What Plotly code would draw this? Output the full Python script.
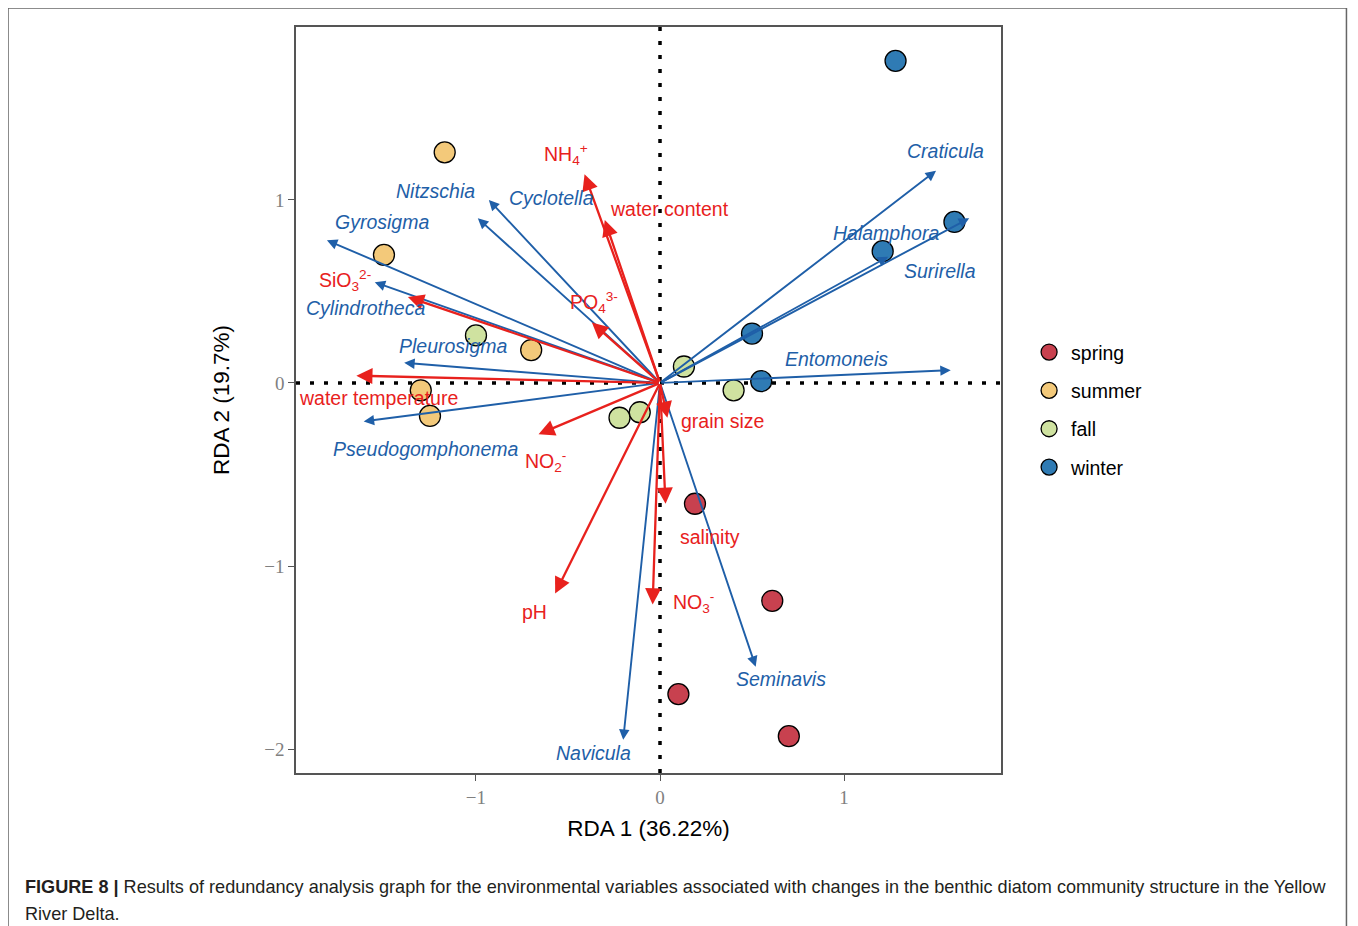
import plotly.graph_objects as go

# ---------------- data ----------------
seasons = ["spring", "summer", "fall", "winter"]
season_colors = ["#c8414f", "#f3c97a", "#cfe2a0", "#2f7bb4"]

spring_x = [0.19, 0.61, 0.10, 0.70]
spring_y = [-0.66, -1.19, -1.70, -1.93]
summer_x = [-1.17, -1.50, -0.70, -1.30, -1.25]
summer_y = [1.26, 0.70, 0.18, -0.04, -0.18]
fall_x = [-1.00, 0.13, 0.40, -0.22, -0.11]
fall_y = [0.26, 0.09, -0.04, -0.19, -0.16]
winter_x = [1.28, 1.60, 1.21, 0.50, 0.55]
winter_y = [1.76, 0.88, 0.72, 0.27, 0.01]

species = ["Craticula", "Surirella", "Halamphora", "Entomoneis", "Seminavis",
           "Navicula", "Pseudogomphonema", "Pleurosigma", "Cylindrotheca",
           "Gyrosigma", "Nitzschia", "Cyclotella"]
species_x = [1.50, 1.68, 1.24, 1.58, 0.52, -0.20, -1.61, -1.39, -1.55, -1.81, -0.93, -0.99]
species_y = [1.16, 0.90, 0.69, 0.07, -1.55, -1.95, -0.21, 0.11, 0.55, 0.78, 1.00, 0.90]
species_label_x = [1.55, 1.52, 1.23, 0.96, 0.66, -0.36, -1.27, -1.12, -1.60, -1.51, -1.22, -0.59]
species_label_y = [1.27, 0.61, 0.82, 0.13, -1.62, -2.02, -0.36, 0.20, 0.41, 0.88, 1.05, 1.01]

env = ["NH<sub>4</sub><sup>+</sup>", "water content", "PO<sub>4</sub><sup>3-</sup>",
       "SiO<sub>3</sub><sup>2-</sup>", "water temperature", "NO<sub>2</sub><sup>-</sup>",
       "pH", "NO<sub>3</sub><sup>-</sup>", "salinity", "grain size"]
env_x = [-0.41, -0.30, -0.37, -1.37, -1.65, -0.66, -0.57, -0.04, 0.03, 0.04]
env_y = [1.14, 0.89, 0.33, 0.47, 0.04, -0.28, -1.15, -1.21, -0.66, -0.19]
env_label_x = [-0.51, 0.05, -0.36, -1.71, -1.53, -0.62, -0.68, 0.18, 0.27, 0.34]
env_label_y = [1.25, 0.95, 0.44, 0.56, -0.08, -0.43, -1.25, -1.20, -0.84, -0.21]

x_ticks = [-1, 0, 1]
y_ticks = [-2, -1, 0, 1]

caption_line1 = ("<b>FIGURE 8 |</b> Results of redundancy analysis graph for the environmental variables "
                 "associated with changes in the benthic diatom community structure in the Yellow")
caption_line2 = "River Delta."

# ---------------- figure ----------------
BLUE = "#1f5fa8"
RED = "#e8211d"

fig = go.Figure()
site_x = [spring_x, summer_x, fall_x, winter_x]
site_y = [spring_y, summer_y, fall_y, winter_y]
for name, col, xs, ys in zip(seasons, season_colors, site_x, site_y):
    fig.add_trace(go.Scatter(
        x=xs, y=ys, mode="markers", name=name, legendgroup=name,
        marker=dict(size=21, color=col, line=dict(color="black", width=1.3)),
    ))

annotations = []
for x, y in zip(species_x, species_y):
    annotations.append(dict(x=x, y=y, ax=0, ay=0, xref="x", yref="y", axref="x", ayref="y",
                            text="", showarrow=True, arrowhead=2, arrowsize=1.1,
                            arrowwidth=1.9, arrowcolor=BLUE, standoff=0))
for x, y in zip(env_x, env_y):
    annotations.append(dict(x=x, y=y, ax=0, ay=0, xref="x", yref="y", axref="x", ayref="y",
                            text="", showarrow=True, arrowhead=2, arrowsize=1.4,
                            arrowwidth=2.3, arrowcolor=RED, standoff=0))
for name, x, y in zip(species, species_label_x, species_label_y):
    annotations.append(dict(x=x, y=y, xref="x", yref="y", text="<i>%s</i>" % name,
                            showarrow=False, font=dict(family="Liberation Sans", size=19.5, color=BLUE)))
for name, x, y in zip(env, env_label_x, env_label_y):
    annotations.append(dict(x=x, y=y, xref="x", yref="y", text=name,
                            showarrow=False, font=dict(family="Liberation Sans", size=19.5, color=RED)))
cap_font = dict(family="Liberation Sans", size=18.1, color="#231f20")
annotations.append(dict(x=-0.3872, y=-0.1528, xref="paper", yref="paper", xanchor="left", yanchor="middle",
                        align="left", text=caption_line1, showarrow=False, font=cap_font))
annotations.append(dict(x=-0.3872, y=-0.1890, xref="paper", yref="paper", xanchor="left", yanchor="middle",
                        align="left", text=caption_line2, showarrow=False, font=cap_font))

shapes = [
    dict(type="line", xref="x", yref="paper", x0=0, x1=0, y0=0, y1=1, layer="below",
         line=dict(color="black", width=3.5, dash="4px,10px")),
    dict(type="line", xref="paper", yref="y", x0=0, x1=1, y0=0, y1=0, layer="below",
         line=dict(color="black", width=3.5, dash="4px,10px")),
    # outer figure frame
    dict(type="line", xref="paper", yref="paper", x0=-0.4085, x1=1.49, y0=1.0255, y1=1.0255,
         line=dict(color="#666666", width=1.5)),
    dict(type="line", xref="paper", yref="paper", x0=-0.4085, x1=-0.4085, y0=1.0255, y1=-0.25,
         line=dict(color="#666666", width=1.5)),
    dict(type="line", xref="paper", yref="paper", x0=1.49, x1=1.49, y0=1.0255, y1=-0.25,
         line=dict(color="#666666", width=1.5)),
]

axis_common = dict(showgrid=False, zeroline=False, showline=True, mirror=True,
                   linecolor="#555555", linewidth=1.6, ticks="outside", ticklen=6,
                   tickcolor="#555555", tickwidth=1.3,
                   tickfont=dict(family="Liberation Serif", size=19, color="#808080"))

fig.update_layout(
    width=1350, height=918,
    margin=dict(l=288, r=357, t=19, b=153),
    paper_bgcolor="white", plot_bgcolor="white",
    xaxis=dict(range=[-1.978, 1.853], tickvals=x_ticks,
               title=dict(text="RDA 1 (36.22%)", standoff=14,
                          font=dict(family="Liberation Sans", size=22.5, color="black")),
               **axis_common),
    yaxis=dict(range=[-2.131, 1.945], tickvals=y_ticks,
               title=dict(text="RDA 2 (19.7%)", standoff=28,
                          font=dict(family="Liberation Sans", size=22.5, color="black")),
               **axis_common),
    legend=dict(x=1.037, y=0.59, xanchor="left", yanchor="top", tracegroupgap=10, itemwidth=34,
                font=dict(family="Liberation Sans", size=19.5, color="black"),
                bgcolor="rgba(0,0,0,0)"),
    annotations=annotations,
    shapes=shapes,
    showlegend=True,
)

fig.write_html("out.html")
